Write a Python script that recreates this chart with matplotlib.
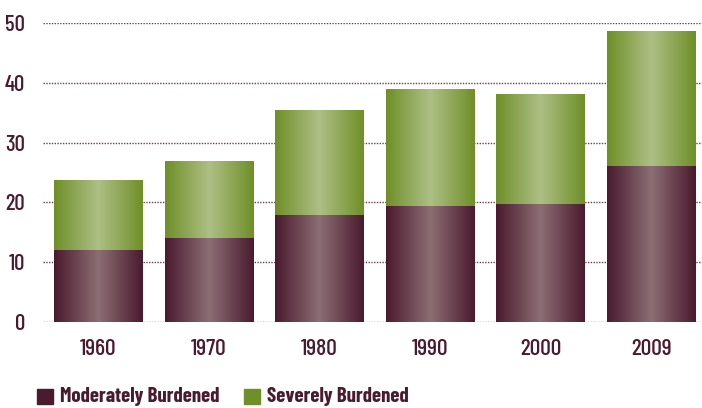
import numpy as np
import matplotlib
matplotlib.use("Agg")
import matplotlib.pyplot as plt
from matplotlib.colors import LinearSegmentedColormap
from matplotlib.patches import Rectangle

years = ["1960", "1970", "1980", "1990", "2000", "2009"]
moderate = [12.1, 14.1, 17.9, 19.4, 19.7, 26.1]
severe_total = [23.7, 26.9, 35.4, 39.0, 38.1, 48.7]
severe = [t - m for t, m in zip(severe_total, moderate)]
yticks = [0, 10, 20, 30, 40, 50]
legend_labels = ["Moderately Burdened", "Severely Burdened"]

plt.rcParams['font.family'] = ['Barlow Condensed', 'DejaVu Sans']

txt_col = "#4a1a2e"
mod_edge, mod_mid = "#4a1a2e", "#8c6e74"
sev_edge, sev_mid = "#6f8f28", "#adbf85"

fig = plt.figure(figsize=(7.02, 4.08), dpi=100)
ax = fig.add_axes([43/702, 1-322/408, 1-43/702, (322-23)/408])

x = np.arange(len(years))
w = 0.8
b1 = ax.bar(x, moderate, w, color=mod_edge, zorder=2)
b2 = ax.bar(x, severe, w, bottom=moderate, color=sev_edge, zorder=2)

grad = 1 - np.abs(np.linspace(-1, 1, 256))
for bars, c0, c1 in [(b1, mod_edge, mod_mid), (b2, sev_edge, sev_mid)]:
    cmap = LinearSegmentedColormap.from_list("g", [c0, c1])
    for p in bars:
        x0, y0 = p.get_x(), p.get_y()
        ww, hh = p.get_width(), p.get_height()
        im = ax.imshow(grad[None, :], cmap=cmap, aspect='auto',
                       extent=[x0, x0 + ww, y0, y0 + hh], zorder=3,
                       interpolation='bilinear')
        im.set_clip_path(p)

for yv in yticks:
    ax.axhline(yv, color="#6a4050", lw=1.0, ls=(0, (1, 1)), zorder=1)

ax.set_xlim(-0.502, 5.46)
ax.set_ylim(0, 50)
ax.set_yticks(yticks)
ax.set_yticklabels([str(v) for v in yticks], fontsize=16.5, color=txt_col, fontweight=500)
ax.set_xticks(x)
ax.set_xticklabels(years, fontsize=17, color=txt_col, fontweight=500)
ax.tick_params(axis='both', length=0)
ax.tick_params(axis='y', pad=13)
ax.tick_params(axis='x', pad=12)
for s in ax.spines.values():
    s.set_visible(False)

# legend
for (lx, col, lab) in [(37, mod_edge, legend_labels[0]), (244, sev_edge, legend_labels[1])]:
    fig.patches.append(Rectangle((lx/702, 1-404/408), 16/702, 15/408,
                                 transform=fig.transFigure, color=col))
    fig.text((lx+23)/702, 1-397/408, lab, fontsize=15, fontweight='bold',
             color=txt_col, va='center', ha='left')

fig.savefig("out.png", dpi=100)
